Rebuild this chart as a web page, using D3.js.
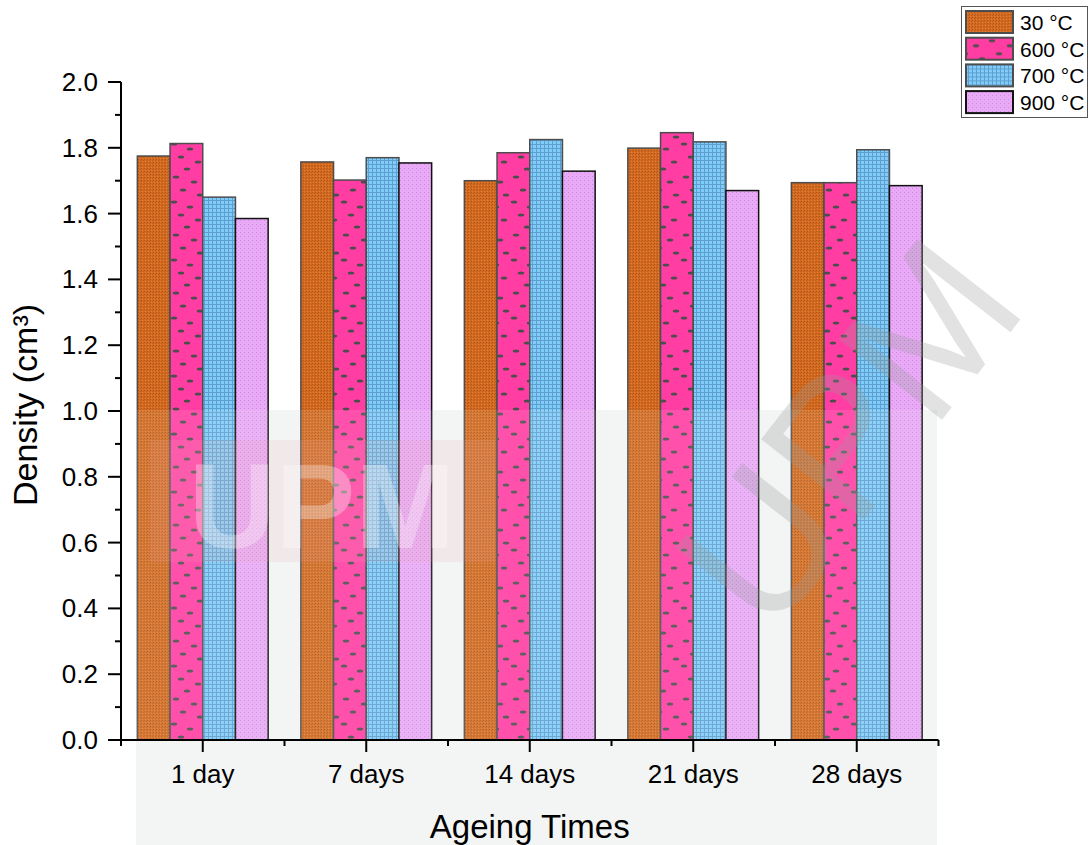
<!DOCTYPE html>
<html>
<head>
<meta charset="utf-8">
<script src="https://cdn.jsdelivr.net/npm/d3@7"></script>
<style>
  html, body { margin: 0; padding: 0; background: #fff; }
  svg { display: block; font-family: "Liberation Sans", Arial, sans-serif; }
</style>
</head>
<body>
<svg id="chart" width="1091" height="845"></svg>
<script>
// Density of samples after each ageing time, per firing temperature
const categories = ["1 day", "7 days", "14 days", "21 days", "28 days"];
const seriesNames = ["30 °C", "600 °C", "700 °C", "900 °C"];
const density30 = [1.775, 1.757, 1.700, 1.799, 1.694];
const density600 = [1.813, 1.702, 1.785, 1.846, 1.694];
const density700 = [1.650, 1.770, 1.825, 1.818, 1.794];
const density900 = [1.585, 1.754, 1.729, 1.670, 1.685];
const yTicks = [0.0, 0.2, 0.4, 0.6, 0.8, 1.0, 1.2, 1.4, 1.6, 1.8, 2.0];

const seriesValues = [density30, density600, density700, density900];

const svg = d3.select("#chart");
const plot = { left: 121, right: 938.5, top: 82, bottom: 740 };

// ---- fill patterns ----
const defs = svg.append("defs");

// 30 °C : mottled orange
const p30 = defs.append("pattern").attr("id", "pat30")
  .attr("patternUnits", "userSpaceOnUse").attr("width", 3).attr("height", 3);
p30.append("rect").attr("width", 3).attr("height", 3).attr("fill", "#d4691f");
p30.append("rect").attr("x", 0).attr("y", 0).attr("width", 1).attr("height", 1).attr("fill", "#a9561c");
p30.append("rect").attr("x", 2).attr("y", 1).attr("width", 1).attr("height", 1).attr("fill", "#b85f1e");
p30.append("rect").attr("x", 1).attr("y", 2).attr("width", 1).attr("height", 1).attr("fill", "#e47f2e");

// 600 °C : pink with scattered dark dashes
const p600 = defs.append("pattern").attr("id", "pat600")
  .attr("patternUnits", "userSpaceOnUse").attr("width", 34).attr("height", 58);
p600.append("rect").attr("width", 34).attr("height", 58).attr("fill", "#ff3da3");
const dashPts = [[6,3],[24,8],[13,16],[30,21],[4,28],[20,33],[11,41],[28,46],[17,53]];
p600.selectAll("ellipse").data(dashPts).join("ellipse")
  .attr("cx", d => d[0]).attr("cy", d => d[1])
  .attr("rx", 3.2).attr("ry", 1.5).attr("fill", "#4d4d4d");

// 700 °C : light blue with a fine grid
const p700 = defs.append("pattern").attr("id", "pat700")
  .attr("patternUnits", "userSpaceOnUse").attr("width", 4).attr("height", 4);
p700.append("rect").attr("width", 4).attr("height", 4).attr("fill", "#7fcdf8");
p700.append("rect").attr("x", 0).attr("y", 0).attr("width", 4).attr("height", 1).attr("fill", "#5f9fd0");
p700.append("rect").attr("x", 0).attr("y", 0).attr("width", 1).attr("height", 4).attr("fill", "#5f9fd0");

// 900 °C : violet with fine dots
const p900 = defs.append("pattern").attr("id", "pat900")
  .attr("patternUnits", "userSpaceOnUse").attr("width", 4).attr("height", 4);
p900.append("rect").attr("width", 4).attr("height", 4).attr("fill", "#eaaaf8");
p900.append("rect").attr("x", 0).attr("y", 0).attr("width", 1).attr("height", 1).attr("fill", "#c58ad6");
p900.append("rect").attr("x", 2).attr("y", 2).attr("width", 1).attr("height", 1).attr("fill", "#d59ae6");

const fills = ["url(#pat30)", "url(#pat600)", "url(#pat700)", "url(#pat900)"];
const strokes = ["#4d4d4d", "#4d4d4d", "#4d4d4d", "#111"];

// ---- faint background emblem ----
const bgMark = svg.append("g").attr("pointer-events", "none");
bgMark.append("rect").attr("x", 136).attr("y", 410).attr("width", 801).attr("height", 435)
  .attr("fill", "#eef0f0").attr("opacity", 0.75);

// ---- scales ----
const x0 = d3.scaleBand().domain(categories)
  .range([plot.left, plot.right]).paddingInner(0.2).paddingOuter(0.1);
const x1 = d3.scaleBand().domain(seriesNames).range([0, x0.bandwidth()]);
const y = d3.scaleLinear().domain([0, 2]).range([plot.bottom, plot.top]);

// ---- bars ----
const rows = [];
categories.forEach((c, i) => {
  seriesNames.forEach((s, j) => rows.push({ cat: c, s, j, v: seriesValues[j][i] }));
});
svg.append("g").selectAll("rect").data(rows).join("rect")
  .attr("x", d => x0(d.cat) + x1(d.s))
  .attr("y", d => y(d.v))
  .attr("width", x1.bandwidth())
  .attr("height", d => y(0) - y(d.v))
  .attr("fill", d => fills[d.j])
  .attr("stroke", d => strokes[d.j])
  .attr("stroke-width", 1.5);

// ---- faint emblem overlay ----
const fgMark = svg.append("g").attr("pointer-events", "none");
fgMark.append("rect").attr("x", 136).attr("y", 410).attr("width", 801).attr("height", 435)
  .attr("fill", "#ffffff").attr("opacity", 0.1);
fgMark.append("rect").attr("x", 150).attr("y", 440).attr("width", 345).attr("height", 122)
  .attr("fill", "#e8a0a8").attr("opacity", 0.15);
fgMark.append("text").attr("x", 322).attr("y", 548)
  .attr("text-anchor", "middle").attr("font-size", 120).attr("font-weight", "bold")
  .attr("fill", "#ffffff").attr("opacity", 0.3).text("UPM");
fgMark.append("text")
  .attr("transform", "translate(770,640) rotate(-52)")
  .attr("font-size", 190).attr("fill", "#9a9a9a").attr("opacity", 0.28)
  .text("UPM");

// ---- y axis ----
const yAxis = svg.append("g");
yAxis.append("line").attr("x1", plot.left).attr("x2", plot.left)
  .attr("y1", plot.top).attr("y2", plot.bottom + 1)
  .attr("stroke", "#000").attr("stroke-width", 2);
const yMinor = d3.range(0.1, 2.0, 0.2);
yAxis.selectAll("line.major").data(yTicks).join("line").attr("class", "major")
  .attr("x1", plot.left - 13).attr("x2", plot.left)
  .attr("y1", d => y(d)).attr("y2", d => y(d))
  .attr("stroke", "#000").attr("stroke-width", 2);
yAxis.selectAll("line.minor").data(yMinor).join("line").attr("class", "minor")
  .attr("x1", plot.left - 6).attr("x2", plot.left)
  .attr("y1", d => y(d)).attr("y2", d => y(d))
  .attr("stroke", "#000").attr("stroke-width", 2);
yAxis.selectAll("text").data(yTicks).join("text")
  .attr("x", 98).attr("y", d => y(d) + 9)
  .attr("text-anchor", "end").attr("font-size", 26).attr("fill", "#000")
  .text(d => d.toFixed(1));

// ---- x axis ----
const xAxis = svg.append("g");
xAxis.append("line").attr("x1", plot.left - 1).attr("x2", plot.right)
  .attr("y1", plot.bottom).attr("y2", plot.bottom)
  .attr("stroke", "#000").attr("stroke-width", 2);
const bounds = categories.map(c => x0(c) - x0.step() * 0.1).concat([plot.right]);
xAxis.selectAll("line.minor").data(bounds).join("line").attr("class", "minor")
  .attr("x1", d => d).attr("x2", d => d)
  .attr("y1", plot.bottom).attr("y2", plot.bottom + 6)
  .attr("stroke", "#000").attr("stroke-width", 2);
xAxis.selectAll("line.major").data(categories).join("line").attr("class", "major")
  .attr("x1", d => x0(d) + x0.bandwidth() / 2).attr("x2", d => x0(d) + x0.bandwidth() / 2)
  .attr("y1", plot.bottom).attr("y2", plot.bottom + 12)
  .attr("stroke", "#000").attr("stroke-width", 2);
xAxis.selectAll("text").data(categories).join("text")
  .attr("x", d => x0(d) + x0.bandwidth() / 2).attr("y", 783)
  .attr("text-anchor", "middle").attr("font-size", 26).attr("fill", "#000")
  .text(d => d);

// ---- axis titles ----
svg.append("text").attr("x", (plot.left + plot.right) / 2).attr("y", 838)
  .attr("text-anchor", "middle").attr("font-size", 33).attr("fill", "#000")
  .text("Ageing Times");
svg.append("text").attr("transform", "translate(37,405) rotate(-90)")
  .attr("text-anchor", "middle").attr("font-size", 34).attr("fill", "#000")
  .text("Density (cm³)");

// ---- legend ----
const lg = svg.append("g");
lg.append("rect").attr("x", 961.5).attr("y", 6.5).attr("width", 126).attr("height", 111)
  .attr("fill", "#fff").attr("stroke", "#555").attr("stroke-width", 1);
const lgItems = lg.selectAll("g.item").data(seriesNames).join("g").attr("class", "item")
  .attr("transform", (d, i) => `translate(0,${11 + i * 26.7})`);
lgItems.append("rect").attr("x", 966).attr("y", 0).attr("width", 47).attr("height", 22)
  .attr("fill", (d, i) => fills[i]).attr("stroke", (d, i) => strokes[i]).attr("stroke-width", 2);
lgItems.append("text").attr("x", 1020).attr("y", 19)
  .attr("font-size", 21).attr("fill", "#000").text(d => d);
</script>
</body>
</html>
